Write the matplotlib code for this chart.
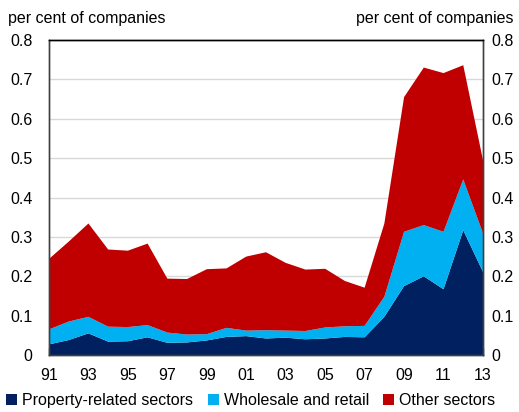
import numpy as np
import matplotlib
matplotlib.use("Agg")
import matplotlib.pyplot as plt

plt.rcParams['font.family'] = ['Liberation Sans', 'DejaVu Sans']

# data (share of companies, per cent)
years = np.arange(1991, 2014)
property_related = [0.027, 0.038, 0.055, 0.034, 0.035, 0.045, 0.031, 0.032, 0.037, 0.046,
                    0.048, 0.042, 0.044, 0.040, 0.042, 0.046, 0.045, 0.097, 0.175, 0.200,
                    0.167, 0.317, 0.211]
wholesale_top = [0.065, 0.085, 0.097, 0.072, 0.071, 0.076, 0.057, 0.052, 0.053, 0.069,
                 0.062, 0.063, 0.062, 0.061, 0.070, 0.073, 0.074, 0.148, 0.313, 0.330,
                 0.313, 0.446, 0.309]
total = [0.244, 0.288, 0.334, 0.268, 0.265, 0.283, 0.194, 0.193, 0.218, 0.220,
         0.250, 0.261, 0.234, 0.217, 0.219, 0.188, 0.171, 0.334, 0.655, 0.730,
         0.716, 0.736, 0.495]

wholesale = np.array(wholesale_top) - np.array(property_related)
other = np.array(total) - np.array(wholesale_top)

labels = ['Property-related sectors', 'Wholesale and retail', 'Other sectors']
colors = ['#002060', '#00B0F0', '#C00000']

fig = plt.figure(figsize=(5.19, 4.12), dpi=100)
ax = fig.add_axes([0.0944, 0.1383, 0.8362, 0.7646])

ax.stackplot(years, property_related, wholesale, other, colors=colors,
             labels=labels, linewidth=0, zorder=2)

ax.set_xlim(1991, 2013)
ax.set_ylim(0, 0.8)
yt = np.arange(0, 0.81, 0.1)
ylabels = ['0' if v == 0 else f'{v:.1f}' for v in yt]
ax.set_yticks(yt)
ax.set_yticklabels(ylabels)
for v in yt[1:-1]:
    ax.axhline(v, color='#d9d9d9', lw=1, zorder=1)

xt = np.arange(1991, 2014, 2)
ax.set_xticks(xt)
ax.set_xticklabels([f'{y % 100:02d}' for y in xt])

ax.tick_params(axis='x', direction='in', length=5, width=1, color='#404040',
               labelsize=11.5, pad=9)
ax.tick_params(axis='y', length=0, labelsize=11.5, pad=12)

# right hand scale
ax2 = ax.twinx()
ax2.set_ylim(0, 0.8)
ax2.set_yticks(yt)
ax2.set_yticklabels(ylabels)
ax2.tick_params(axis='y', length=0, labelsize=11.5, pad=6)

for a in (ax, ax2):
    for s in a.spines.values():
        s.set_color('#404040')
        s.set_linewidth(1)
    a.spines['top'].set_color('black')

fig.text(0.015, 0.955, 'per cent of companies', fontsize=11.5, ha='left', va='center')
fig.text(0.99, 0.955, 'per cent of companies', fontsize=11.5, ha='right', va='center')

ax.legend(loc='upper center', bbox_to_anchor=(0.465, -0.1), ncol=3, frameon=False,
          fontsize=11.5, handlelength=0.7, handleheight=0.7, handletextpad=0.3,
          columnspacing=0.9, borderaxespad=0)

fig.savefig('out.png', dpi=100)
